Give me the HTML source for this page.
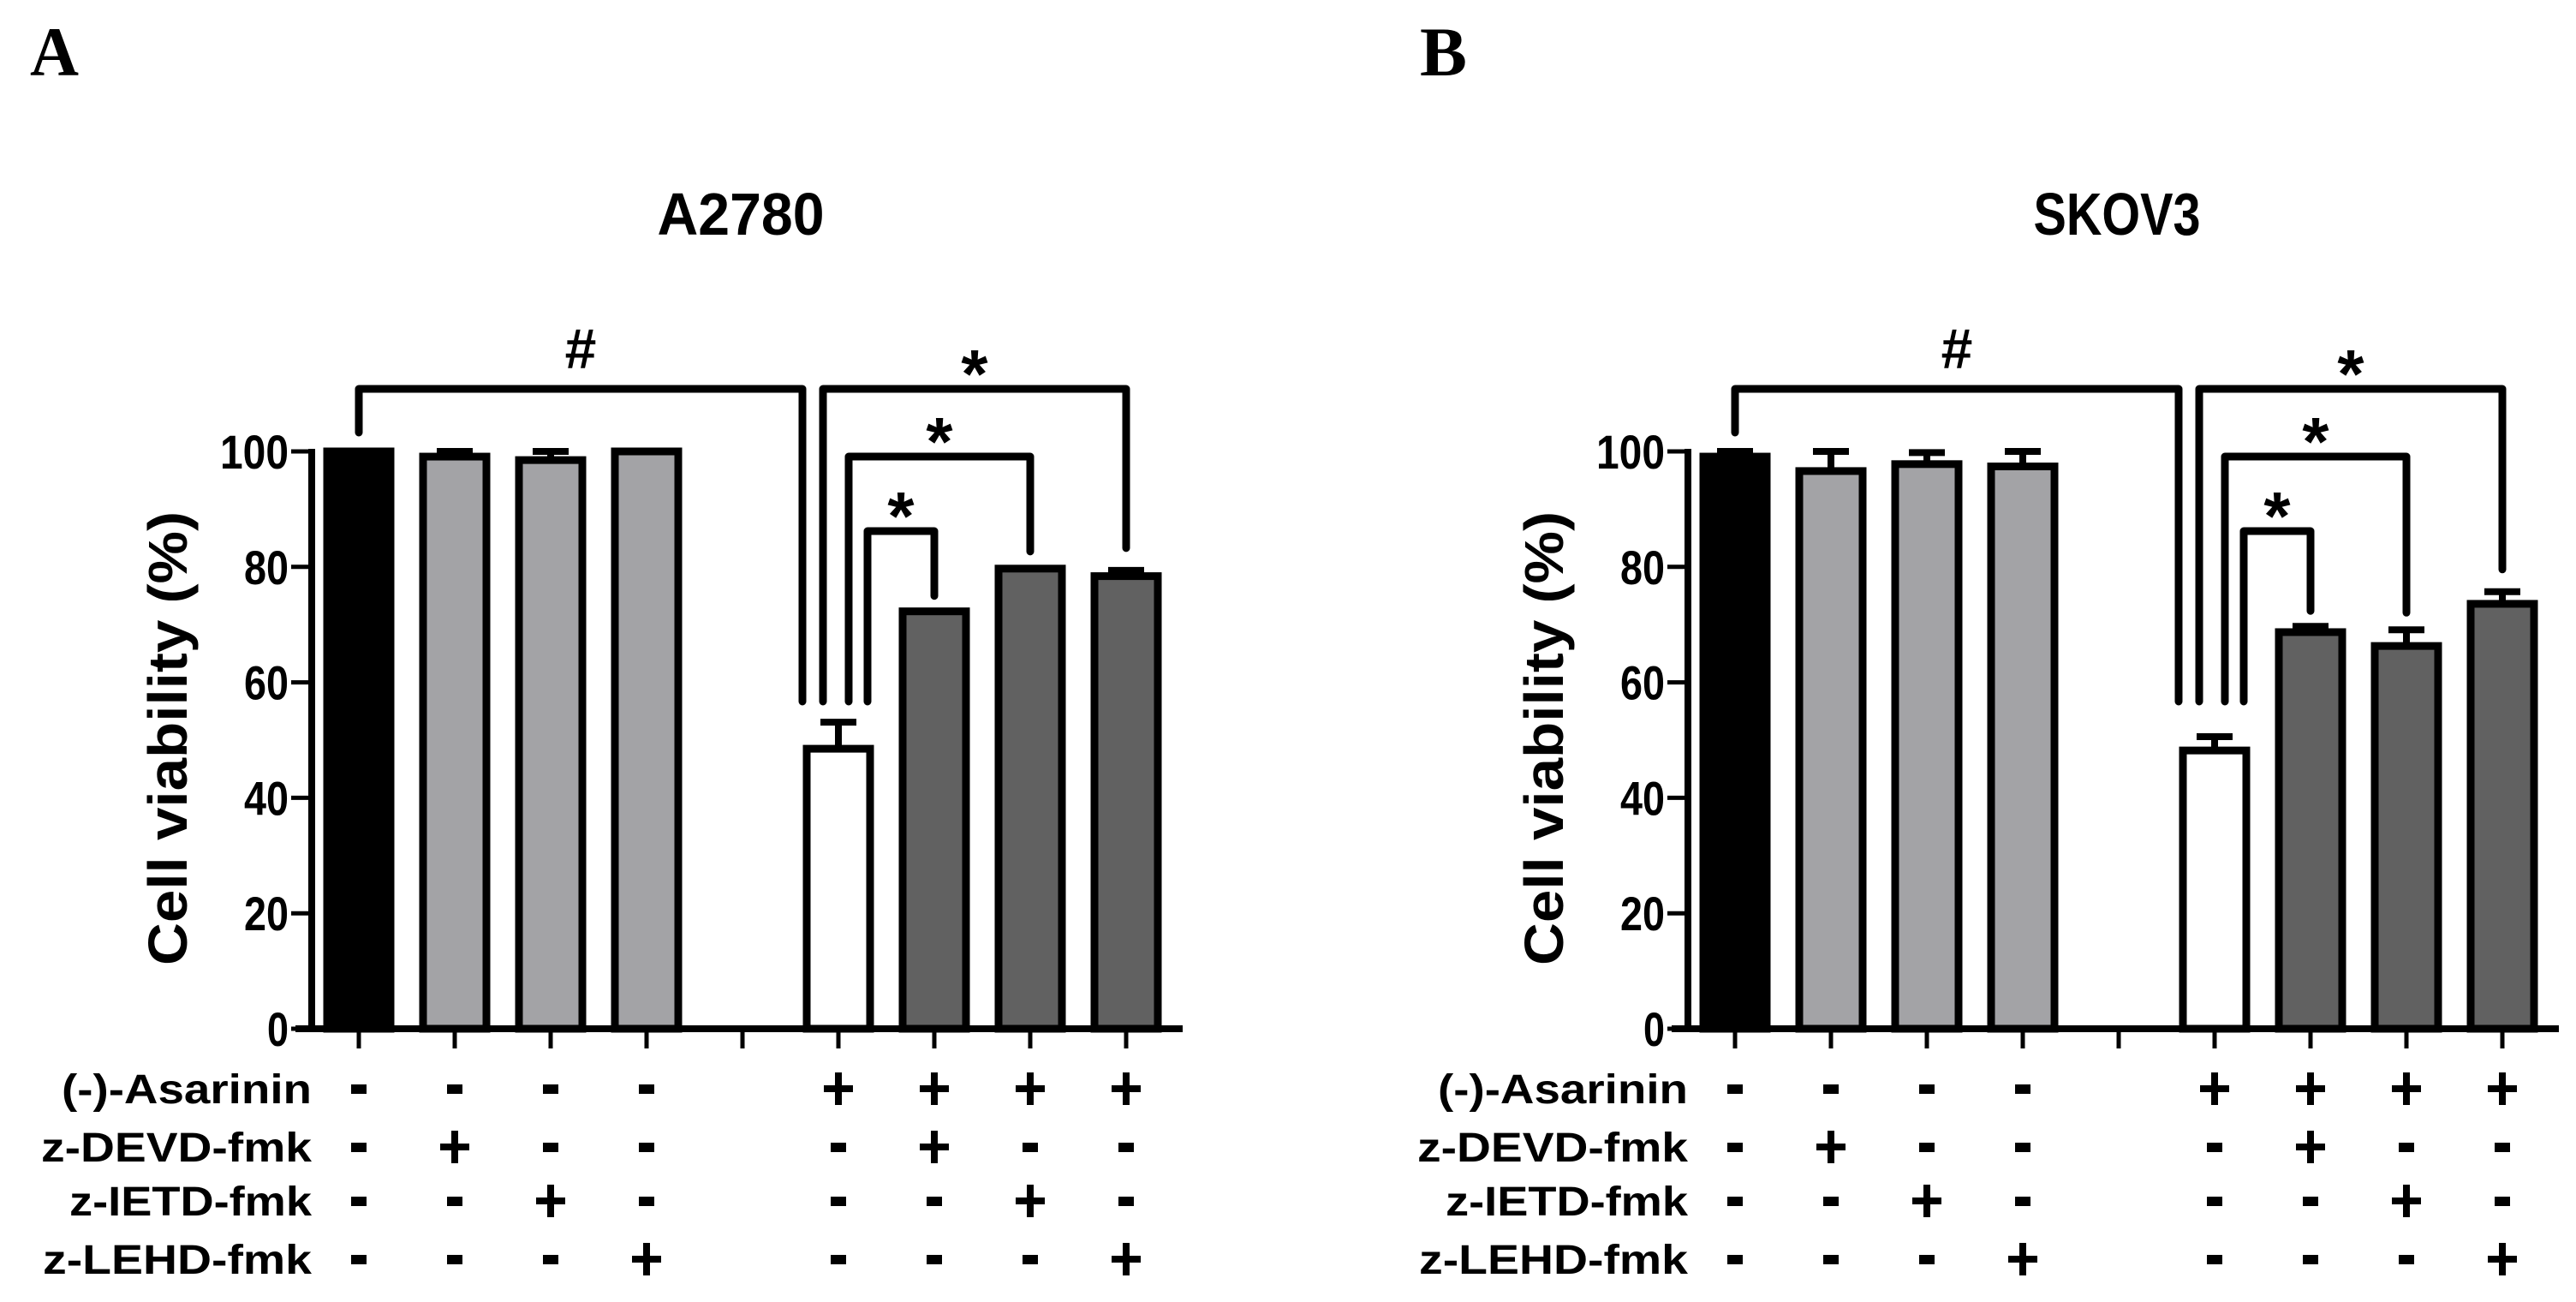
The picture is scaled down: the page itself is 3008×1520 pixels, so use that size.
<!DOCTYPE html>
<html><head><meta charset="utf-8"><style>
html,body{margin:0;padding:0;background:#fff;}
svg{display:block;}
text{font-family:"Liberation Sans",sans-serif;font-weight:bold;fill:#000;}
</style></head>
<body>
<svg id="fig" width="3008" height="1520" viewBox="0 0 3008 1520" xmlns="http://www.w3.org/2000/svg">
<text x="35" y="88" style="font-family:'Liberation Serif',serif;font-size:82px" textLength="57" lengthAdjust="spacingAndGlyphs">A</text>
<text x="1658" y="88" style="font-family:'Liberation Serif',serif;font-size:82px" textLength="55" lengthAdjust="spacingAndGlyphs">B</text>
</svg>
<script>
const categories = ["ctrl","DEVD","IETD","LEHD","","Asa","Asa+DEVD","Asa+IETD","Asa+LEHD"];
const titles = ["A2780","SKOV3"];
const valuesA = [100, 99.1, 98.5, 100, null, 48.5, 72.3, 79.7, 78.4];
const errorsA = [0, 0.9, 1.5, 0, null, 4.6, 0, 0, 1.0];
const valuesB = [99.1, 96.6, 97.8, 97.4, null, 48.2, 68.7, 66.3, 73.6];
const errorsB = [0.9, 3.4, 2.0, 2.6, null, 2.4, 1.0, 2.8, 2.1];
const yTicks = [0, 20, 40, 60, 80, 100];
const rowLabels = ["(-)-Asarinin","z-DEVD-fmk","z-IETD-fmk","z-LEHD-fmk"];
const rowSigns = [
  ["-","-","-","-",null,"+","+","+","+"],
  ["-","+","-","-",null,"-","+","-","-"],
  ["-","-","+","-",null,"-","-","+","-"],
  ["-","-","-","+",null,"-","-","-","+"]
];
const barFills = ["#000000","#a3a3a6","#a3a3a6","#a3a3a6",null,"#ffffff","#616161","#616161","#616161"];

const svg = document.getElementById('fig');
const NS = "http://www.w3.org/2000/svg";
function mk(tag, attrs, parent){const e=document.createElementNS(NS,tag);for(const k in attrs)e.setAttribute(k,attrs[k]);(parent||svg).appendChild(e);return e;}

const Y0=1201, Y100=527;
function yScale(v){return Y0-(Y0-Y100)*v/100;}
function xScale(i,off){return off+419+i*112;}
const rowY=[1271,1339,1402,1470];
const labelW=[292,316,283,314];
const tickLabW={0:25,20:52,40:52,60:52,80:52,100:80};

function panel(off, vals, errs, title, key){
  const g=mk('g',{});
  
  
  const t=mk('text',{x:off+865,y:274,'text-anchor':'middle','font-size':70,textLength:195,lengthAdjust:'spacingAndGlyphs'},g);
  t.textContent=title;
  
  
  const yt=mk('text',{transform:`translate(${off+218},862) rotate(-90)`,'text-anchor':'middle','font-size':64,textLength:530,lengthAdjust:'spacingAndGlyphs'},g);
  yt.textContent="Cell viability (%)";
  
  
  vals.forEach((v,i)=>{
    if(v==null)return;
    const cx=xScale(i,off), top=yScale(v);
    const e=errs[i];
    if(e>0){
      const ec=yScale(v+e);
      const l=mk('line',{x1:cx,x2:cx,y1:top,y2:ec,stroke:'#000','stroke-width':8},g);
      
      
      const c=mk('line',{x1:cx-21,x2:cx+21,y1:ec,y2:ec,stroke:'#000','stroke-width':8},g);
      
      
    }
    const r=mk('rect',{x:cx-37,y:top,width:74,height:Y0-top,fill:barFills[i],stroke:'#000','stroke-width':9},g);
    
    
  });
  const ya=mk('line',{x1:off+364,x2:off+364,y1:Y100-3,y2:Y0,stroke:'#000','stroke-width':8},g);
  
  
  const xa=mk('line',{x1:off+345,x2:off+1381,y1:Y0,y2:Y0,stroke:'#000','stroke-width':8},g);
  
  
  yTicks.forEach(v=>{
    const y=yScale(v);
    const tk=mk('line',{x1:off+340,x2:off+364,y1:y,y2:y,stroke:'#000','stroke-width':5},g);
    
    
    const tl=mk('text',{x:off+337,y:y+20,'text-anchor':'end','font-size':56,textLength:tickLabW[v],lengthAdjust:'spacingAndGlyphs'},g);
    tl.textContent=String(v);
    
    
  });
  categories.forEach((c,i)=>{
    const x=xScale(i,off);
    const tk=mk('line',{x1:x,x2:x,y1:Y0,y2:1224,stroke:'#000','stroke-width':5},g);
    
    
  });
  rowLabels.forEach((lab,r)=>{
    const tl=mk('text',{x:off+364,y:rowY[r]+17,'text-anchor':'end','font-size':48,textLength:labelW[r],lengthAdjust:'spacingAndGlyphs'},g);
    tl.textContent=lab;
    
    
    rowSigns[r].forEach((s,i)=>{
      if(!s)return;
      const x=xScale(i,off), y=rowY[r];
      if(s=="-"){
        const m=mk('rect',{x:x-9,y:y-5,width:18,height:11,fill:'#000'},g);
        
        
      } else {
        const m=mk('path',{d:`M${x-17} ${y}H${x+17}M${x} ${y-19}V${y+19}`,stroke:'#000','stroke-width':8,fill:'none'},g);
        
        
      }
    });
  });
  const tops = vals.map((v,i)=>v==null?null:yScale(v+(errs[i]||0)));
  const x5=xScale(5,off);
  const brackets=[
    {x1:xScale(0,off),y1:505,x2:x5-42,y2:819,yb:454,sym:'#'},
    {x1:x5-18,y1:819,x2:xScale(8,off),y2:tops[8]-26,yb:454,sym:'*'},
    {x1:x5+12,y1:819,x2:xScale(7,off),y2:tops[7]-20,yb:533,sym:'*'},
    {x1:x5+34,y1:819,x2:xScale(6,off),y2:tops[6]-18,yb:620,sym:'*'}
  ];
  brackets.forEach(b=>{
    const p=mk('path',{d:`M${b.x1} ${b.y1}V${b.yb}H${b.x2}V${b.y2}`,stroke:'#000','stroke-width':9,fill:'none','stroke-linejoin':'round','stroke-linecap':'round'},g);
    
    
    const s=mk('text',{x:(b.x1+b.x2)/2,y:b.sym=='#'?b.yb-24:b.yb+10,'text-anchor':'middle','font-size':b.sym=='#'?66:80},g);
    s.textContent=b.sym;
    
    
  });
}
panel(0, valuesA, errorsA, titles[0], 'a');
panel(1607, valuesB, errorsB, titles[1], 'b');
</script>
</body></html>
